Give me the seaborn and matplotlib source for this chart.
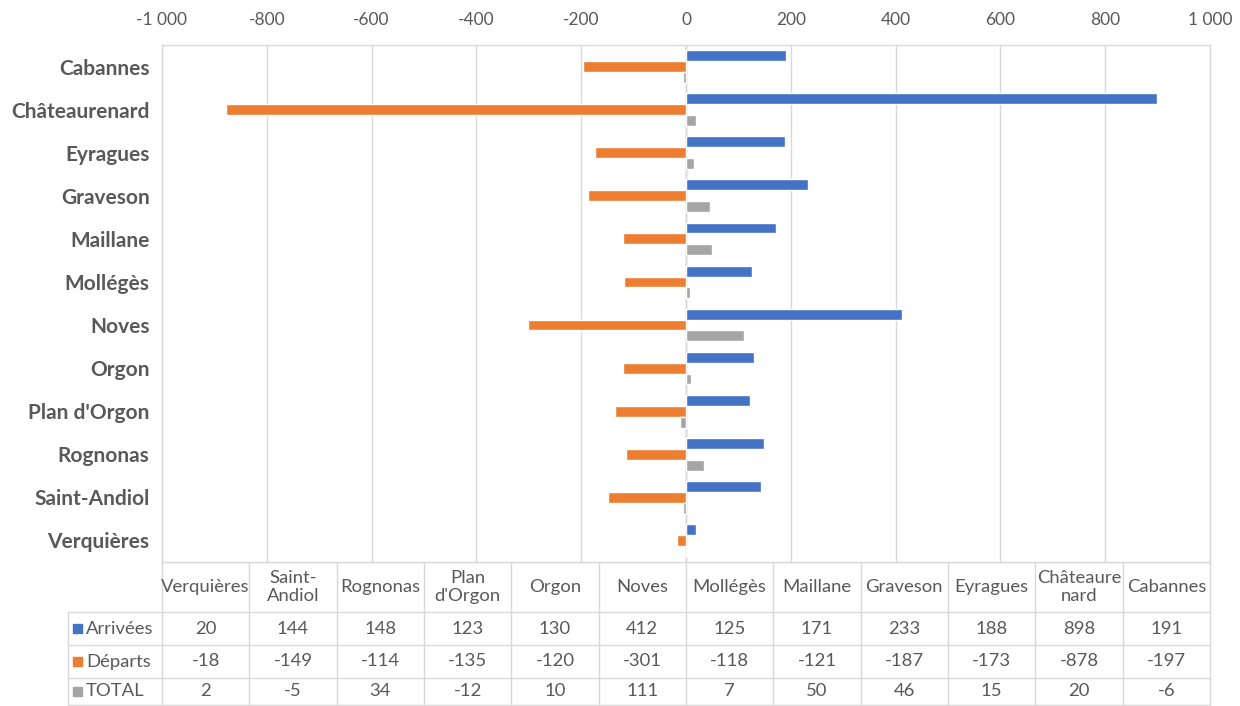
import pandas as pd
import matplotlib.pyplot as plt
import seaborn as sns
from matplotlib.patches import Rectangle

# Data (chart order, top to bottom)
communes = ['Cabannes', 'Châteaurenard', 'Eyragues', 'Graveson', 'Maillane', 'Mollégès',
            'Noves', 'Orgon', "Plan d'Orgon", 'Rognonas', 'Saint-Andiol', 'Verquières']
arrivees = [191, 898, 188, 233, 171, 125, 412, 130, 123, 148, 144, 20]
departs = [-197, -878, -173, -187, -121, -118, -301, -120, -135, -114, -149, -18]
total = [-6, 20, 15, 46, 50, 7, 111, 10, -12, 34, -5, 2]
series = ['Arrivées', 'Départs', 'TOTAL']
colors = ['#4472C4', '#ED7D31', '#A5A5A5']
# data table headers (table order is reversed: Verquières first)
table_headers = ['Verquières', 'Saint-\nAndiol', 'Rognonas', "Plan\nd'Orgon", 'Orgon', 'Noves',
                 'Mollégès', 'Maillane', 'Graveson', 'Eyragues', 'Châteaure\nnard', 'Cabannes']

df = pd.DataFrame({'Commune': communes * 3,
                   'Valeur': arrivees + departs + total,
                   'Série': [s for s in series for _ in communes]})

sns.set_theme(style='white')
plt.rcParams['font.family'] = ['Lato', 'DejaVu Sans']
txt = '#595959'
grid = '#D9D9D9'

W, H = 1240, 706
fig = plt.figure(figsize=(W / 100, H / 100), dpi=100)
L, R, T, B = 162, 1210, 45, 562
ax = fig.add_axes([L / W, 1 - B / H, (R - L) / W, (B - T) / H])

sns.barplot(data=df, y='Commune', x='Valeur', hue='Série', order=communes, hue_order=series,
            palette=colors, width=0.76, orient='h', saturation=1, legend=False, ax=ax)

ticks = list(range(-1000, 1001, 200))
ax.set_xlim(-1000, 1000)
ax.set_xticks(ticks)
ax.set_xticklabels([f'{v:,}'.replace(',', ' ') for v in ticks])
ax.xaxis.tick_top()
ax.tick_params(axis='x', length=0, pad=12, labelsize=12.5, labelcolor=txt)
ax.tick_params(axis='y', length=0, pad=9, labelsize=15, labelcolor=txt)
for lab in ax.get_yticklabels():
    lab.set_fontweight('bold')
ax.set_xlabel('')
ax.set_ylabel('')
ax.grid(axis='x', color=grid, lw=1)
ax.set_axisbelow(True)
ax.axvline(0, color='#BFBFBF', lw=1, zorder=0.5)
for s in ax.spines.values():
    s.set_color(grid)
    s.set_linewidth(1)

# Data table below the chart, drawn in pixel coordinates
ov = fig.add_axes([0, 0, 1, 1], zorder=-1)
ov.set_xlim(0, W)
ov.set_ylim(H, 0)
ov.axis('off')
rows_y = [562, 612, 645, 678, 705]
label_x = 68
cw = (R - L) / 12
lk = dict(color=grid, lw=1)
ov.plot([L, R], [rows_y[0], rows_y[0]], **lk)
for y in rows_y[1:]:
    ov.plot([label_x, R], [y, y], **lk)
for i in range(13):
    x = L + i * cw
    ov.plot([x, x], [rows_y[0], rows_y[-1]], **lk)
ov.plot([label_x, label_x], [rows_y[1], rows_y[-1]], **lk)

fs = 13.3
table_vals = [arrivees[::-1], departs[::-1], total[::-1]]
for i, h in enumerate(table_headers):
    cx = L + (i + 0.5) * cw
    ov.text(cx, (rows_y[0] + rows_y[1]) / 2, h, ha='center', va='center',
            fontsize=fs, color=txt, linespacing=1.2)
    for r in range(3):
        ov.text(cx, (rows_y[r + 1] + rows_y[r + 2]) / 2, str(table_vals[r][i]),
                ha='center', va='center', fontsize=fs, color=txt)
for r, (s, c) in enumerate(zip(series, colors)):
    cy = (rows_y[r + 1] + rows_y[r + 2]) / 2
    ov.add_patch(Rectangle((73, cy - 4.5), 9, 9, color=c))
    ov.text(86, cy, s, ha='left', va='center', fontsize=fs, color=txt)

fig.savefig('out.png', dpi=100)
